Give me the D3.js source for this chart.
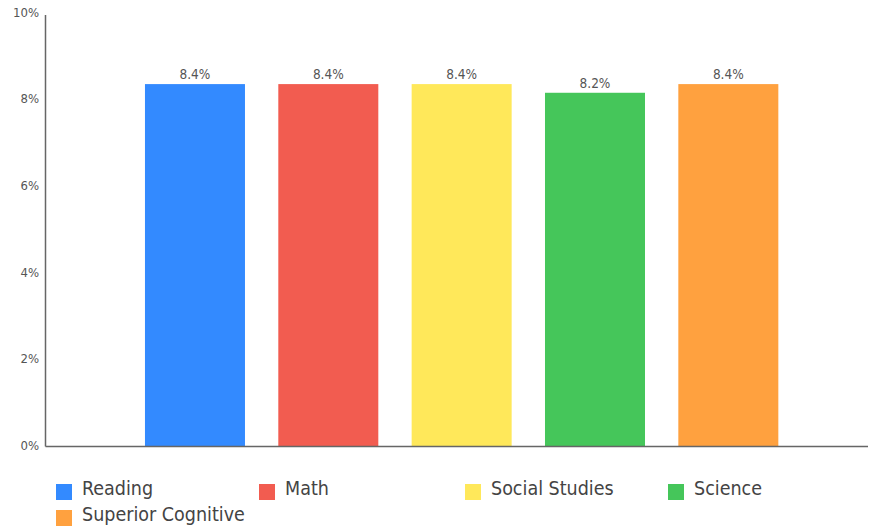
<!DOCTYPE html>
<html>
<head>
<meta charset="utf-8">
<script src="https://cdn.jsdelivr.net/npm/d3@7"></script>
<style>
  html, body { margin: 0; padding: 0; background: #fff; }
  svg { display: block; font-family: "DejaVu Sans Condensed", "DejaVu Sans", sans-serif; }
</style>
</head>
<body>
<svg id="chart" width="870" height="530"></svg>
<script>
const categories = ["Reading", "Math", "Social Studies", "Science", "Superior Cognitive"];
const values = [8.36, 8.36, 8.36, 8.16, 8.36];
const colors = ["#338aff", "#f25c50", "#ffe85a", "#45c65a", "#ffa13f"];
const yTicks = [0, 2, 4, 6, 8, 10];

const svg = d3.select("#chart");
const plotLeft = 45.5, plotRight = 868, plotTop = 13, plotBottom = 446.5;

const x = d3.scaleBand().domain(categories)
  .range([128.3, 795]).paddingInner(0.25).paddingOuter(0.125);
const y = d3.scaleLinear().domain([0, 10]).range([plotBottom, plotTop]);

// y tick labels
svg.append("g").selectAll("text").data(yTicks).join("text")
  .attr("x", 39).attr("y", d => y(d))
  .attr("text-anchor", "end").attr("dominant-baseline", "middle")
  .attr("font-size", 13).attr("fill", "#555")
  .text(d => d + "%");

// bars
svg.append("g").selectAll("rect").data(categories).join("rect")
  .attr("x", d => x(d)).attr("width", x.bandwidth())
  .attr("y", (d, i) => y(values[i]))
  .attr("height", (d, i) => plotBottom - y(values[i]))
  .attr("fill", (d, i) => colors[i]);

// value labels
svg.append("g").selectAll("text").data(categories).join("text")
  .attr("x", d => x(d) + x.bandwidth() / 2)
  .attr("y", (d, i) => y(values[i]) - 5)
  .attr("text-anchor", "middle")
  .attr("font-size", 13.5).attr("fill", "#555")
  .text((d, i) => d3.format(".1f")(values[i]) + "%");

// axes lines
svg.append("line").attr("x1", plotLeft).attr("x2", plotLeft).attr("y1", 15).attr("y2", plotBottom)
  .attr("stroke", "#666").attr("stroke-width", 1.5);
svg.append("line").attr("x1", plotLeft).attr("x2", plotRight).attr("y1", plotBottom).attr("y2", plotBottom)
  .attr("stroke", "#666").attr("stroke-width", 1.5);

// legend
const legX = [56, 259, 465, 668];
const lg = svg.append("g").selectAll("g").data(categories).join("g")
  .attr("transform", (d, i) => `translate(${legX[i % 4]},${484 + Math.floor(i / 4) * 26})`);
lg.append("rect").attr("width", 16).attr("height", 16).attr("fill", (d, i) => colors[i]);
lg.append("text").attr("x", 26).attr("y", 11).attr("font-size", 19.5)
  .attr("fill", "#444").text(d => d);
</script>
</body>
</html>
